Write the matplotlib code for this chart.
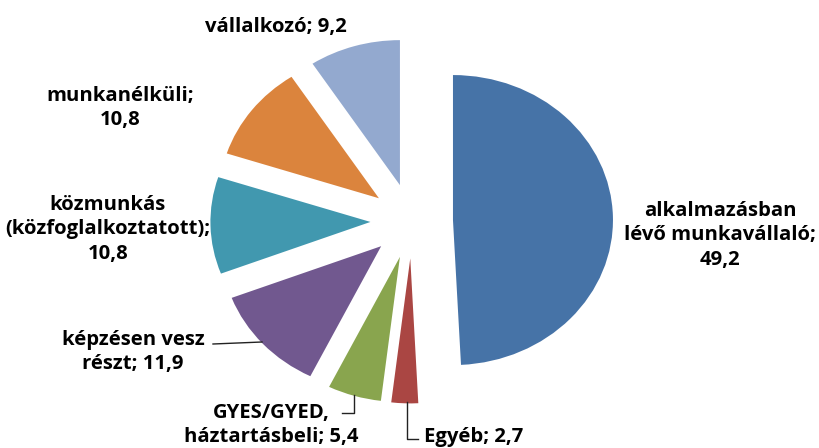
import matplotlib
matplotlib.use("Agg")
import matplotlib.pyplot as plt
from matplotlib.lines import Line2D

categories = ["alkalmazásban\nlévő munkavállaló;", "Egyéb;", "GYES/GYED,\nháztartásbeli;",
              "képzésen vesz\nrészt;", "közmunkás\n(közfoglalkoztatott);", "munkanélküli;", "vállalkozó;"]
values = [49.2, 2.7, 5.4, 11.9, 10.8, 10.8, 9.2]
value_labels = ["49,2", "2,7", "5,4", "11,9", "10,8", "10,8", "9,2"]
colors = ["#4673A7", "#AA4643", "#89A54E", "#71588F", "#4198AF", "#DB843D", "#93A9CF"]
# separator between category and value: newline or space
separators = ["\n", " ", " ", " ", "\n", "\n", " "]

W, H = 820, 448
fig = plt.figure(figsize=(W / 100, H / 100), dpi=100)
ax = fig.add_axes([0, 0, 1, 1])

cx, cy = 411.7, 221.0   # pie centre in pixels (from top)
rx, ry = 160.0, 145.0   # pixels per unit radius

ax.pie(values, colors=colors, startangle=90, counterclock=False,
       explode=[0.258] * len(values), radius=1.0,
       wedgeprops=dict(linewidth=0))
ax.set_aspect("auto")
ax.set_xlim(-cx / rx, (W - cx) / rx)
ax.set_ylim(-(H - cy) / ry, cy / ry)
ax.axis("off")

def fx(x):
    return x / W

def fy(y):
    return 1 - y / H

label_pos = [(720, 235), (474, 437), (271, 425), (133, 352), (108, 229), (120, 108), (276, 27)]

font = dict(family=["Open Sans", "DejaVu Sans"], fontweight="bold", fontsize=14.6, color="black")
for cat, sep, v, (x, y) in zip(categories, separators, value_labels, label_pos):
    fig.text(fx(x), fy(y), cat + sep + v, ha="center", va="center", linespacing=1.3, **font)

# leader lines
leaders = [
    [(213, 344), (262, 342)],
    [(342, 413), (354, 413), (354, 395)],
    [(407, 402), (407, 439), (418, 439)],
]
for pts in leaders:
    xs = [fx(p[0]) for p in pts]
    ys = [fy(p[1]) for p in pts]
    fig.add_artist(Line2D(xs, ys, transform=fig.transFigure, color="#222222", linewidth=1.0))

fig.savefig("out.png", dpi=100)
